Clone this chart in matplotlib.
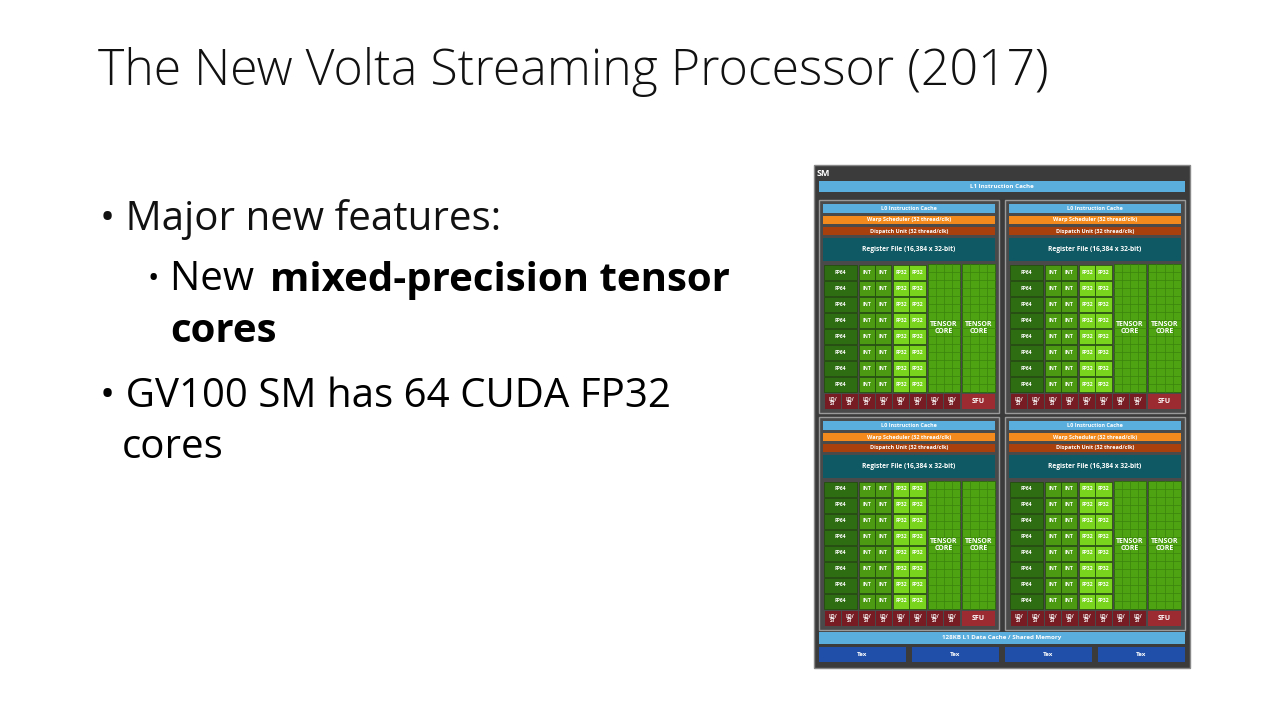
import matplotlib
matplotlib.use("Agg")
import matplotlib.pyplot as plt
from matplotlib.patches import Rectangle

title = "The New Volta Streaming Processor (2017)"
header_labels = ["L0 Instruction Cache", "Warp Scheduler (32 thread/clk)", "Dispatch Unit (32 thread/clk)"]
regfile_label = "Register File (16,384 x 32-bit)"
unit_labels = ["FP64", "INT", "INT", "FP32", "FP32"]
n_rows = 8
ldst_count = 8
tex_labels = ["Tex", "Tex", "Tex", "Tex"]

FONT = ["Open Sans", "DejaVu Sans"]
fig = plt.figure(figsize=(12.8, 7.2), dpi=100)
ax = fig.add_axes([0, 0, 1, 1])
ax.set_xlim(0, 1280); ax.set_ylim(720, 0); ax.axis("off")

ax.text(98, 72, title, fontsize=36, family=FONT, weight="light", va="center", color="#111")
ax.text(100, 220, "• Major new features:", fontsize=29, family=FONT, va="center", color="#111")
ax.text(148, 280, "•", fontsize=22, family=FONT, va="center")
ax.text(170, 280, "New ", fontsize=29, family=FONT, va="center")
ax.text(270, 280, "mixed-precision tensor", fontsize=29, family=FONT, va="center", weight="bold")
ax.text(170, 331, "cores", fontsize=29, family=FONT, va="center", weight="bold")
ax.text(100, 397, "• GV100 SM has 64 CUDA FP32", fontsize=29, family=FONT, va="center")
ax.text(122, 448, "cores", fontsize=29, family=FONT, va="center")

def box(x0, y0, x1, y1, fc, ec="none", lw=0.6, label=None, fs=4.5, tc="white", z=2):
    ax.add_patch(Rectangle((x0, y0), x1 - x0, y1 - y0, fc=fc, ec=ec, lw=lw, zorder=z))
    if label:
        ax.text((x0 + x1) / 2, (y0 + y1) / 2, label, fontsize=fs, color=tc, ha="center",
                va="center", weight="bold", zorder=z + 1, family=FONT, linespacing=0.9)

box(814, 165, 1190, 668, "#3b3b3b", ec="#888", lw=1, z=1)
ax.text(817, 173, "SM", fontsize=6.5, color="white", weight="bold", va="center", family=FONT)
box(819, 181, 1185, 192, "#5aaede", label="L1 Instruction Cache")

def quadrant(qx, qy):
    box(qx, qy, qx + 180, qy + 213, "#4a4a4a", ec="#9a9a9a", lw=1, z=1.5)
    cols = ["#5aaede", "#f28a1e", "#a8400e"]
    ys = [(4, 13), (16, 24), (27, 35)]
    for (a, b), c, t in zip(ys, cols, header_labels):
        box(qx + 4, qy + a, qx + 176, qy + b, c, label=t, fs=4)
    box(qx + 4, qy + 38, qx + 176, qy + 61, "#0e5963", label=regfile_label, fs=4.8)
    top = qy + 64
    rh = 16
    colx = [(5, 38), (40, 56), (56, 72), (74, 90), (90, 107)]
    colc = ["#2f6d12", "#4b9a12", "#4b9a12", "#78d41c", "#78d41c"]
    for r in range(n_rows):
        y0 = top + r * rh
        for (a, b), c, t in zip(colx, colc, unit_labels):
            box(qx + a, y0 + 0.5, qx + b, y0 + rh - 0.5, c, ec="#1f4a0a", lw=0.5, label=t, fs=3.6)
    for tx in [(109, 141), (143, 176)]:
        x0, x1 = qx + tx[0], qx + tx[1]
        box(x0, top, x1, top + n_rows * rh, "#4da312", ec="#2c6a0c", lw=0.6)
        for i in range(1, 4):
            ax.plot([x0 + i * (x1 - x0) / 4] * 2, [top, top + n_rows * rh], color="#3a820e", lw=0.5, zorder=3)
        for j in range(1, 16):
            ax.plot([x0, x1], [top + j * 8] * 2, color="#3a820e", lw=0.5, zorder=3)
        ax.text((x0 + x1) / 2, top + 64, "TENSOR\nCORE", fontsize=5, color="white", weight="bold",
                ha="center", va="center", zorder=5, family=FONT, linespacing=0.9)
    ly = top + n_rows * rh + 2
    w = (141 - 5) / ldst_count
    for i in range(ldst_count):
        box(qx + 5 + i * w + 0.5, ly, qx + 5 + (i + 1) * w - 0.5, ly + 15, "#761c22", label="LD/\nST", fs=3.6)
    box(qx + 143, ly, qx + 176, ly + 15, "#9c2a31", label="SFU", fs=5)

for qx in (819, 1005):
    for qy in (200, 417):
        quadrant(qx, qy)

box(819, 632, 1185, 644, "#5aaede", label="128KB L1 Data Cache / Shared Memory")
tx = [(819, 906), (912, 999), (1005, 1092), (1098, 1185)]
for (a, b), t in zip(tx, tex_labels):
    box(a, 647, b, 662, "#1f4fa8", label=t)

fig.savefig("out.png", dpi=100, facecolor="white")
